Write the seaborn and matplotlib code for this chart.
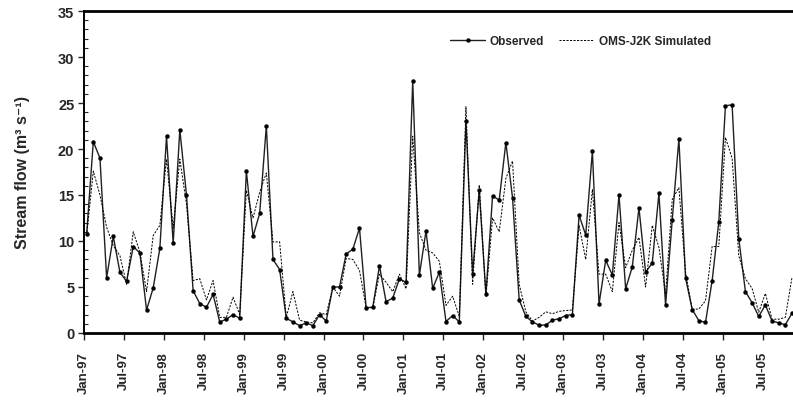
import numpy as np
import pandas as pd
import matplotlib
matplotlib.use("Agg")
import matplotlib.pyplot as plt
from matplotlib.ticker import MultipleLocator, FixedLocator
import seaborn as sns

# Monthly streamflow (m3/s), Jan 1997 - Nov 2005
observed = [
    10.8, 20.8, 19.0, 6.0, 10.5, 6.6, 5.6, 9.4, 8.7, 2.5, 4.9, 9.2,
    21.4, 9.75, 22.1, 15.0, 4.6, 3.2, 2.8, 4.2, 1.2, 1.5, 2.0, 1.6,
    17.6, 10.5, 13.0, 22.5, 8.0, 6.9, 1.6, 1.2, 0.8, 1.1, 0.8, 2.0,
    1.3, 5.0, 5.0, 8.6, 9.1, 11.4, 2.75, 2.8, 7.3, 3.4, 3.8, 5.9,
    5.5, 27.4, 6.3, 11.1, 4.85, 6.6, 1.25, 1.9, 1.2, 23.0, 6.45, 15.5,
    4.2, 14.9, 14.45, 20.7, 14.7, 3.6, 1.8, 1.2, 0.85, 0.87, 1.4, 1.55,
    1.9, 2.0, 12.8, 10.65, 19.75, 3.15, 7.9, 6.3, 15.0, 4.8, 7.2, 13.6,
    6.6, 7.6, 15.2, 3.0, 12.3, 21.1, 6.0, 2.55, 1.35, 1.15, 5.7, 12.1,
    24.7, 24.8, 10.25, 4.5, 3.3, 1.8, 3.05, 1.3, 1.1, 0.9, 2.15,
]
simulated = [
    10.6, 17.6, 15.0, 11.5, 9.5, 8.4, 5.3, 11.0, 8.8, 4.5, 10.6, 11.7,
    18.9, 11.4, 18.9, 14.0, 5.7, 5.9, 3.6, 5.7, 1.7, 1.7, 3.9, 2.0,
    15.5, 12.5, 15.3, 17.4, 9.9, 9.9, 1.7, 4.5, 1.4, 1.2, 1.1, 2.2,
    2.0, 5.0, 4.0, 8.1, 8.0, 6.8, 2.75, 2.75, 6.4, 5.5, 4.5, 6.4,
    4.8, 21.4, 10.9, 9.0, 8.7, 7.8, 3.0, 4.0, 1.8, 24.6, 5.3, 16.1,
    3.9, 12.5, 11.0, 16.8, 18.7, 5.3, 2.3, 1.3, 1.7, 2.3, 2.1, 2.35,
    2.45, 2.5, 11.7, 8.0, 15.6, 6.4, 6.4, 4.5, 12.0, 7.1, 9.0, 10.4,
    5.0, 11.7, 9.3, 4.2, 14.5, 15.8, 6.6, 2.6, 2.6, 3.5, 9.4, 9.4,
    21.25, 19.0, 8.4, 5.9, 4.85, 2.25, 4.3, 1.5, 1.5, 1.7, 6.05,
]
tick_labels = [
    "Jan-97", "Jul-97", "Jan-98", "Jul-98", "Jan-99", "Jul-99",
    "Jan-00", "Jul-00", "Jan-01", "Jul-01", "Jan-02", "Jul-02",
    "Jan-03", "Jul-03", "Jan-04", "Jul-04", "Jan-05", "Jul-05",
]
series_names = ["Observed", "OMS-J2K Simulated"]

month = np.arange(len(observed))
df = pd.DataFrame({"month": month, "obs": observed, "sim": simulated})

sns.set_style("ticks")
plt.rcParams["font.family"] = ["Liberation Sans", "DejaVu Sans"]
plt.rcParams["font.weight"] = "bold"

fig = plt.figure(figsize=(7.93, 4.02), dpi=100)
ax = fig.add_axes([84 / 793, 1 - 334 / 402, 1 - 84 / 793, 322 / 402])

sns.lineplot(data=df, x="month", y="obs", ax=ax, color="#202020", lw=1.0,
             marker="o", markersize=3.2, markeredgewidth=0,
             markerfacecolor="black", label=series_names[0], legend=False)
sns.lineplot(data=df, x="month", y="sim", ax=ax, color="black", lw=0.7,
             linestyle=(0, (2.2, 1.4)), label=series_names[1], legend=False)

ax.set_xlim(-0.4, 106.15)
ax.set_ylim(0, 35)

# ticks every six months, slightly before the monthly points
tick_pos = np.arange(0, 103, 6) - 0.4
ax.xaxis.set_major_locator(FixedLocator(tick_pos))
ax.set_xticklabels(tick_labels, rotation=90, fontsize=9.5, fontweight="bold")
ax.tick_params(axis="x", which="major", direction="out", length=5,
               width=1.0, pad=8)

ax.yaxis.set_major_locator(MultipleLocator(5))
ax.yaxis.set_minor_locator(MultipleLocator(1))
ax.tick_params(axis="y", which="major", direction="out", length=4,
               width=1.0, labelsize=10.5, pad=3)
ax.tick_params(axis="y", which="minor", direction="in", length=3, width=0.8)
for lbl in ax.get_yticklabels():
    lbl.set_fontweight("bold")

ax.set_xlabel("")
ax.set_ylabel("Stream flow (m\u00b3 s\u207b\u00b9)",
              fontsize=11.5, fontweight="bold", labelpad=20)

for side in ("left", "bottom", "top"):
    ax.spines[side].set_visible(True)
    ax.spines[side].set_color("black")
ax.spines["left"].set_linewidth(1.4)
ax.spines["bottom"].set_linewidth(2.0)
ax.spines["top"].set_linewidth(2.0)
ax.spines["right"].set_visible(False)

leg = ax.legend(loc="center", bbox_to_anchor=(0.70, 0.907), ncol=2,
                frameon=False, handlelength=3.0, handletextpad=0.4,
                columnspacing=1.2, prop={"weight": "bold", "size": 8.5})

fig.savefig("out.png", dpi=100)
